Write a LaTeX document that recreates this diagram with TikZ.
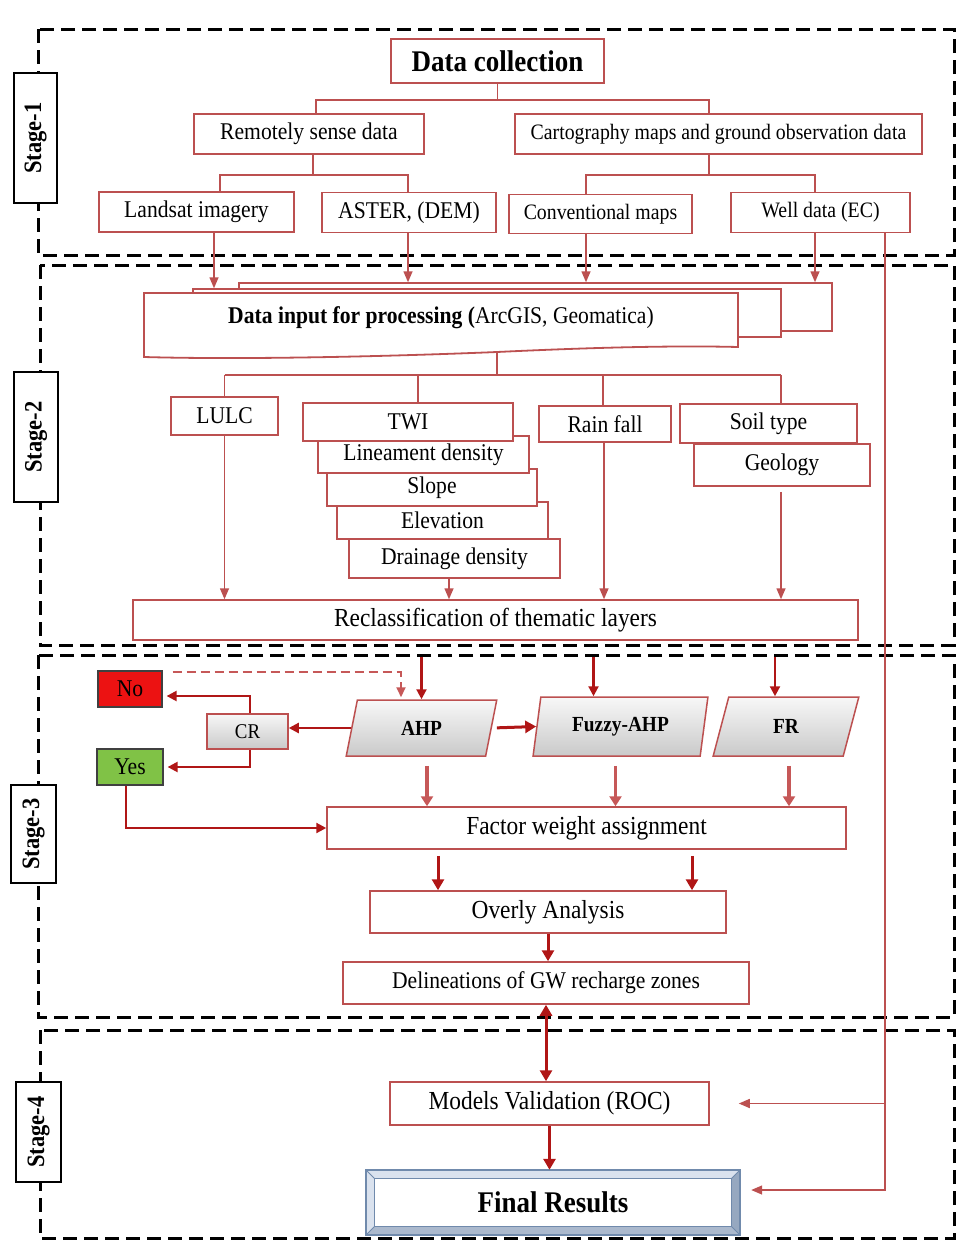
\documentclass[tikz,border=0pt]{standalone}
\usepackage{fontspec}
\setmainfont{Liberation Serif}[FakeStretch=0.9]
\usetikzlibrary{arrows.meta, positioning, shapes.geometric, backgrounds, calc}

\definecolor{boxred}{RGB}{188,80,80}
\definecolor{darkred}{RGB}{176,22,22}
\definecolor{softred}{RGB}{198,88,88}
\definecolor{nored}{RGB}{236,18,18}
\definecolor{yesgreen}{RGB}{128,194,70}
\definecolor{bevelline}{RGB}{112,138,172}
\definecolor{bevellight}{RGB}{218,226,238}
\definecolor{beveldark}{RGB}{150,168,192}

\begin{document}
\begin{tikzpicture}[
  x=1pt, y=-1pt,
  box/.style={draw=boxred, line width=1.5pt, fill=white, inner sep=2pt,
              font=\fontsize{24}{28}\selectfont},
  smallbox/.style={box, font=\fontsize{22}{26}\selectfont},
  bigbox/.style={box, font=\fontsize{26}{30}\selectfont},
  para/.style={trapezium, trapezium left angle=76, trapezium right angle=104,
               trapezium stretches=true, draw=boxred, line width=1.5pt,
               top color=gray!6, bottom color=gray!42, inner sep=0pt,
               font=\bfseries\fontsize{21.5}{24}\selectfont},
  answer/.style={draw=black!75, line width=1.2pt, inner sep=0pt,
                 font=\fontsize{24}{28}\selectfont},
  stageframe/.style={draw=black, line width=3pt, dash pattern=on 14pt off 7pt},
  stagebox/.style={draw=black, line width=2pt, fill=white, rotate=90, inner sep=0pt,
                   font=\bfseries\fontsize{25}{28}\selectfont},
  link/.style={draw=boxred, line width=1.5pt},
  arr/.style={link, -{Triangle[length=11pt,width=9pt]}},
  dasharr/.style={draw=softred, line width=2pt, dash pattern=on 9pt off 5pt,
                  -{Triangle[length=10pt,width=9pt]}},
  darkarr/.style={draw=darkred, line width=2.2pt, -{Triangle[length=10pt,width=10pt]}},
  boldarr/.style={draw=darkred, line width=3pt, -{Triangle[length=11pt,width=12pt]}},
  softarr/.style={draw=softred, line width=3.5pt, -{Triangle[length=10pt,width=12pt]}},
  botharr/.style={draw=darkred, line width=3pt,
                  {Triangle[length=11pt,width=12pt]}-{Triangle[length=11pt,width=12pt]}}
]
\useasboundingbox (0,0) rectangle (957,1240);

% stage frames and labels
\draw[stageframe] (38,29) rectangle (954,255);
\draw[stageframe] (40,265) rectangle (954,645);
\draw[stageframe] (38,655) rectangle (954,1017);
\draw[stageframe] (40,1030) rectangle (954,1238);
\node[stagebox, minimum width=130, minimum height=43] (s1) at (35.5,138) {Stage-1};
\node[stagebox, minimum width=130, minimum height=44] (s2) at (36,437) {Stage-2};
\node[stagebox, minimum width=98, minimum height=45] (s3) at (33.5,834) {Stage-3};
\node[stagebox, minimum width=100, minimum height=45] (s4) at (38.5,1132) {Stage-4};

% stage 1
\node[box, minimum width=213, minimum height=44, font=\bfseries\fontsize{30}{34}\selectfont]
  (collect) at (497.5,61) {Data collection};
\node[box, minimum width=230, minimum height=40] (remote) at (309,134) {Remotely sense data};
\node[smallbox, minimum width=407, minimum height=40] (carto) at (718.5,134)
  {Cartography maps and ground observation data};
\node[box, minimum width=195, minimum height=40] (landsat) at (196.5,212) {Landsat imagery};
\node[box, minimum width=174, minimum height=40] (aster) at (409,212.5) {ASTER, (DEM)};
\node[smallbox, minimum width=183, minimum height=39] (conv) at (600.5,214) {Conventional maps};
\node[smallbox, minimum width=179, minimum height=40] (well) at (820.5,212.5) {Well data (EC)};

\draw[link] (collect.south) -- ++(0,16) coordinate (j1);
\draw[link] ([xshift=7pt]remote.north) |- (j1) -| ([xshift=-9.5pt]carto.north);
\draw[link] ([xshift=4pt]remote.south) -- ++(0,20) coordinate (j2);
\draw[link] ([xshift=23.5pt]landsat.north) |- (j2) -| ([xshift=-1pt]aster.north);
\draw[link] ([xshift=-9.5pt]carto.south) -- ++(0,20) coordinate (j3);
\draw[link] ([xshift=-14.5pt]conv.north) |- (j3) -| ([xshift=-5.5pt]well.north);

% stage 2: stacked input
\node[box, minimum width=593, minimum height=48] (layer3) at (535.5,307) {};
\node[box, minimum width=588, minimum height=48] (layer2) at (487,313) {};
\path[draw=boxred, line width=1.8pt, fill=white]
  (144,293) -- (738,293) -- (738,347)
  .. controls (660,345) and (560,349) .. (497,352)
  .. controls (400,356) and (250,360) .. (144,357) -- cycle;
\coordinate (inbot) at (497,352);
\node[font=\fontsize{24}{28}\selectfont] (input) at (441,318)
  {\textbf{Data input for processing (}ArcGIS, Geomatica)};

\draw[arr] ([xshift=17.5pt]landsat.south) -- ([xshift=17.5pt]landsat.south |- layer2.north);
\draw[arr] ([xshift=-1pt]aster.south) -- ([xshift=-1pt]aster.south |- layer3.north);
\draw[arr] ([xshift=-14.5pt]conv.south) -- ([xshift=-14.5pt]conv.south |- layer3.north);
\draw[arr] ([xshift=-5.5pt]well.south) -- ([xshift=-5.5pt]well.south |- layer3.north);

% thematic layers
\node[box, minimum width=107, minimum height=38] (lulc) at (224.5,416) {LULC};
\node[box, minimum width=211, minimum height=39] (drain) at (454.5,558.5) {Drainage density};
\node[box, minimum width=211, minimum height=37] (elev) at (442.5,520.5) {Elevation};
\node[box, minimum width=210, minimum height=37] (slope) at (432,487.5) {Slope};
\node[box, minimum width=211, minimum height=37] (linea) at (423.5,454.5) {Lineament density};
\node[box, minimum width=210, minimum height=38] (twi) at (408,422) {TWI};
\node[box, minimum width=132, minimum height=36] (rain) at (605,424) {Rain fall};
\node[box, minimum width=176, minimum height=42] (geology) at (782,465) {Geology};
\node[box, minimum width=177, minimum height=39] (soil) at (768.5,423.5) {Soil type};
\node[bigbox, minimum width=725, minimum height=40] (reclass) at (495.5,620)
  {Reclassification of thematic layers};

\draw[link] (inbot) -- (inbot |- 0,375) coordinate (j4);
\draw[link] (lulc.north |- j4) -- ([xshift=12.5pt]soil.north |- j4);
\draw[link] (lulc.north |- j4) -- (lulc.north);
\draw[link] ([xshift=10pt]twi.north |- j4) -- ([xshift=10pt]twi.north);
\draw[link] ([xshift=-2pt]rain.north |- j4) -- ([xshift=-2pt]rain.north);
\draw[link] ([xshift=12.5pt]soil.north |- j4) -- ([xshift=12.5pt]soil.north);

\draw[arr] (lulc.south) -- (lulc.south |- reclass.north);
\draw[arr] ([xshift=-5.5pt]drain.south) -- ([xshift=-5.5pt]drain.south |- reclass.north);
\draw[arr] ([xshift=-1pt]rain.south) -- ([xshift=-1pt]rain.south |- reclass.north);
\draw[arr] ([xshift=-1pt,yshift=-5pt]geology.south) -- ([xshift=-1pt]geology.south |- reclass.north);

% stage 3
\coordinate (top3) at (0,657);
\node[para, minimum width=151, minimum height=56] (ahp) at (421.5,728) {AHP};
\node[para, minimum width=175, minimum height=59] (fuzzy) at (620.5,726.5) {Fuzzy-AHP};
\node[para, minimum width=146, minimum height=59] (fr) at (786,726.5) {FR};
\node[draw=boxred, line width=1.5pt, top color=gray!6, bottom color=gray!42,
      minimum width=81, minimum height=35, inner sep=0pt,
      font=\fontsize{21}{24}\selectfont] (cr) at (247.5,731.5) {CR};
\node[answer, fill=nored, minimum width=64, minimum height=36] (no) at (130,689) {No};
\node[answer, fill=yesgreen, minimum width=66, minimum height=36] (yes) at (130,767) {Yes};
\node[bigbox, minimum width=519, minimum height=42] (factor) at (586.5,828) {Factor weight assignment};
\node[bigbox, minimum width=356, minimum height=42] (overly) at (548,912) {Overly Analysis};
\node[box, minimum width=406, minimum height=42] (delin) at (546,983) {Delineations of GW recharge zones};

\draw[darkarr] (ahp.north |- top3) -- (ahp.north);
\draw[darkarr] ([xshift=-27pt]fuzzy.north |- top3) -- ([xshift=-27pt]fuzzy.north);
\draw[darkarr] ([xshift=-11pt]fr.north |- top3) -- ([xshift=-11pt]fr.north);
\draw[dasharr] ([xshift=10pt,yshift=-2pt]no.north east) -| ([xshift=-20.5pt,yshift=2pt]ahp.north);

\draw[darkarr] (ahp.west) -- (ahp.west -| cr.east);
\draw[darkarr] ([xshift=2.5pt]cr.north) |- ([xshift=4pt,yshift=-7pt]no.east);
\draw[darkarr] ([xshift=2.5pt]cr.south) |- ([xshift=4pt]yes.east);
\draw[darkarr] ([xshift=-4pt]yes.south) |- (factor.west);
\draw[boldarr, shorten <=5pt] (ahp.east) -- (fuzzy.west);

\draw[softarr] ([xshift=5.5pt,yshift=-9pt]ahp.south) -- ([xshift=5.5pt]ahp.south |- factor.north);
\draw[softarr] ([xshift=-5pt,yshift=-9pt]fuzzy.south) -- ([xshift=-5pt]fuzzy.south |- factor.north);
\draw[softarr] ([xshift=3pt,yshift=-9pt]fr.south) -- ([xshift=3pt]fr.south |- factor.north);

\draw[boldarr, shorten <=6pt] ([xshift=-110pt]overly.north |- factor.south) -- ([xshift=-110pt]overly.north);
\draw[boldarr, shorten <=6pt] ([xshift=144pt]overly.north |- factor.south) -- ([xshift=144pt]overly.north);
\draw[boldarr] (overly.south) -- (overly.south |- delin.north);

% stage 4
\node[bigbox, minimum width=319, minimum height=43] (models) at (549.5,1103.5) {Models Validation (ROC)};
\node[minimum width=374, minimum height=65, inner sep=0pt,
      font=\bfseries\fontsize{30}{34}\selectfont] (final) at (553,1202.5) {Final Results};
\begin{scope}[on background layer]
  \fill[bevellight] (final.north west) rectangle (final.south east);
  \fill[beveldark] (final.north east) -- (final.south east) -- ($(final.south east)+(-9,-9)$)
    -- ($(final.north east)+(-9,9)$) -- cycle;
  \fill[beveldark!80] (final.south west) -- (final.south east) -- ($(final.south east)+(-9,-9)$)
    -- ($(final.south west)+(9,-9)$) -- cycle;
  \draw[bevelline, line width=1.3pt, fill=white] ($(final.north west)+(9,9)$) rectangle ($(final.south east)+(-9,-9)$);
  \draw[bevelline, line width=1.5pt] (final.north west) rectangle (final.south east);
  \draw[bevelline, line width=1pt] (final.north west) -- ++(9,9) (final.north east) -- ++(-9,9)
    (final.south west) -- ++(9,-9) (final.south east) -- ++(-9,-9);
\end{scope}

\draw[botharr] (delin.south) -- (delin.south |- models.north);
\draw[boldarr] (models.south) -- (models.south |- final.north);

\coordinate (side) at (885,0);
\draw[arr] (well.south -| side) |- ([xshift=11pt,yshift=12.5pt]final.east);
\draw[arr] (models.east -| side) -- ([xshift=29pt]models.east);
\end{tikzpicture}
\end{document}
